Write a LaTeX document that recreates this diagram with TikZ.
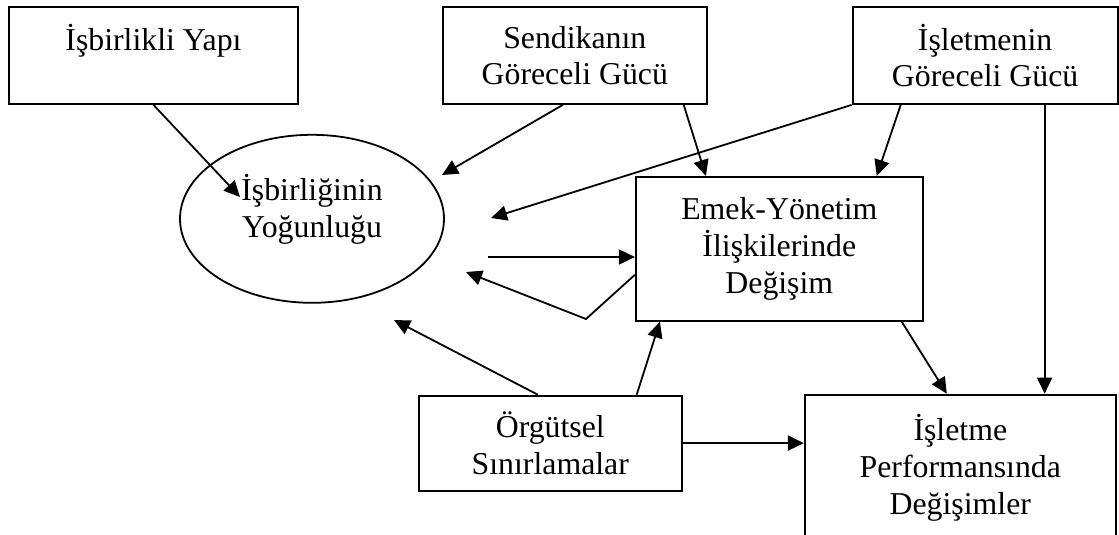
\documentclass[tikz,border=0pt]{standalone}
\usepackage{fontspec}
\setmainfont{Liberation Serif}
\usetikzlibrary{positioning,shapes.geometric,arrows.meta}
\begin{document}
\begin{tikzpicture}[x=0.5pt, y=-0.5pt, line width=0.9pt,
  >={Triangle[length=8pt,width=7.5pt]},
  font=\fontsize{15.9pt}{18.3pt}\selectfont,
  kutu/.style={draw, rectangle, align=center, inner sep=0pt, minimum height=48.5pt}]
\useasboundingbox (0,0) rectangle (1119,535);
\clip (0,0) rectangle (1119,535);
\node (yapi) [kutu, minimum width=144.5pt] at (153.5,55.5) {İşbirlikli Yapı\\~};
\node (sendika) [kutu, minimum width=132pt, right=71.5pt of yapi] {Sendikanın\\Göreceli Gücü};
\node (isletme) [kutu, minimum width=132.5pt, right=72pt of sendika] {İşletmenin\\Göreceli Gücü};
\node (yogun) [draw, ellipse, align=center, inner sep=0pt, minimum width=132pt, minimum height=84pt, below=14.5pt of yapi, xshift=79.25pt] {İşbirliğinin\\Yoğunluğu\rule[-13pt]{0pt}{0pt}};
\node (emek) [kutu, minimum width=143.5pt, minimum height=72pt, below=35.5pt of sendika, xshift=102.25pt] {Emek-Yönetim\\İlişkilerinde\\Değişim};
\node (orgut) [kutu, minimum width=131.5pt, minimum height=47.5pt, below=36.5pt of emek, xshift=-114.5pt] {Örgütsel\\Sınırlamalar};
\node (perf) [kutu, minimum width=155.5pt, inner ysep=10pt, below=36pt of emek, xshift=90.5pt] {İşletme\\Performansında\\Değişimler\\~\\~};
% serbest uclar
\coordinate (c1) at (240,197);
\coordinate (c2) at (442,175);
\coordinate (c3) at (491,218);
\coordinate (c4) at (488,257);
\coordinate (c5) at (586,319);
\coordinate (c6) at (466,272);
\coordinate (c7) at (394,320);
\draw[->] (yapi.south) -- (c1);
\draw[->] ([xshift=-6pt]sendika.south) -- (c2);
\draw[->] ([xshift=-12pt]sendika.south east) -- ([xshift=35.5pt]emek.north west);
\draw[->] (isletme.south west) -- (c3);
\draw[->] ([xshift=24.5pt]isletme.south west) -- ([xshift=-23.5pt]emek.north east);
\draw[->] ([xshift=29.75pt]isletme.south) -- ([xshift=29.75pt]isletme.south |- perf.north);
\draw[->] (c4) -- (c4 -| emek.west);
\draw[->] ([yshift=-13pt]emek.west) -- (c5) -- (c6);
\draw[->] ([xshift=-6.25pt]orgut.north) -- (c7);
\draw[->] ([xshift=-23pt]orgut.north east) -- ([xshift=12.5pt]emek.south west);
\draw[->] (orgut.east) -- (orgut.east -| perf.west);
\draw[->] ([xshift=-11pt]emek.south east) -- ([xshift=-6.75pt]perf.north);
\end{tikzpicture}
\end{document}
